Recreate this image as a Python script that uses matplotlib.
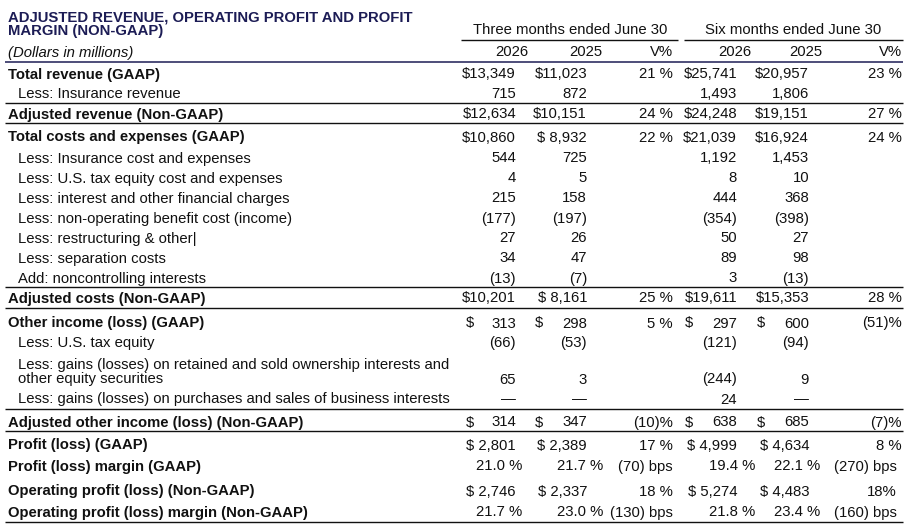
import matplotlib
matplotlib.use("Agg")
import matplotlib.pyplot as plt

# ---------------- data ----------------
title_lines = ["ADJUSTED REVENUE, OPERATING PROFIT AND PROFIT", "MARGIN (NON-GAAP)"]
group_headers = ["Three months ended June 30", "Six months ended June 30"]
col_headers = ["2026", "2025", "V%", "2026", "2025", "V%"]
units_label = "(Dollars in millions)"

labels = [
    "Total revenue (GAAP)",
    "Less: Insurance revenue",
    "Adjusted revenue (Non-GAAP)",
    "Total costs and expenses (GAAP)",
    "Less: Insurance cost and expenses",
    "Less: U.S. tax equity cost and expenses",
    "Less: interest and other financial charges",
    "Less: non-operating benefit cost (income)",
    "Less: restructuring & other|",
    "Less: separation costs",
    "Add: noncontrolling interests",
    "Adjusted costs (Non-GAAP)",
    "Other income (loss) (GAAP)",
    "Less: U.S. tax equity",
    "Less: gains (losses) on retained and sold ownership interests and\nother equity securities",
    "Less: gains (losses) on purchases and sales of business interests",
    "Adjusted other income (loss) (Non-GAAP)",
    "Profit (loss) (GAAP)",
    "Profit (loss) margin (GAAP)",
    "Operating profit (loss) (Non-GAAP)",
    "Operating profit (loss) margin (Non-GAAP)",
]
bold_rows = [0, 2, 3, 11, 12, 16, 17, 18, 19, 20]

three_2026 = ["$13,349", "715", "$12,634", "$10,860", "544", "4", "215", "(177)", "27", "34", "(13)",
              "$10,201", "$ 313", "(66)", "65", "—", "$ 314", "$ 2,801", "21.0 %", "$ 2,746", "21.7 %"]
three_2025 = ["$11,023", "872", "$10,151", "$ 8,932", "725", "5", "158", "(197)", "26", "47", "(7)",
              "$ 8,161", "$ 298", "(53)", "3", "—", "$ 347", "$ 2,389", "21.7 %", "$ 2,337", "23.0 %"]
three_var = ["21 %", "", "24 %", "22 %", "", "", "", "", "", "", "",
             "25 %", "5 %", "", "", "", "(10)%", "17 %", "(70) bps", "18 %", "(130) bps"]
six_2026 = ["$25,741", "1,493", "$24,248", "$21,039", "1,192", "8", "444", "(354)", "50", "89", "3",
            "$19,611", "$ 297", "(121)", "(244)", "24", "$ 638", "$ 4,999", "19.4 %", "$ 5,274", "21.8 %"]
six_2025 = ["$20,957", "1,806", "$19,151", "$16,924", "1,453", "10", "368", "(398)", "27", "98", "(13)",
            "$15,353", "$ 600", "(94)", "9", "—", "$ 685", "$ 4,634", "22.1 %", "$ 4,483", "23.4 %"]
six_var = ["23 %", "", "27 %", "24 %", "", "", "", "", "", "", "",
           "28 %", "(51)%", "", "", "", "(7)%", "8 %", "(270) bps", "18%", "(160) bps"]

columns = [three_2026, three_2025, three_var, six_2026, six_2025, six_var]

# ---------------- layout ----------------
W, H = 914, 532
FONT = "Liberation Sans"
FS = 10.7
NAVY = "#1c1c55"
INK = "#111111"

row_y = [73, 93, 113, 136, 157, 177, 197, 217, 237, 257, 277, 297,
         322, 342, 378, 398, 421, 444, 465, 490, 511]
col_right = [516, 587, 673, 737, 809, 902]
margin_right = [522, 603, 673, 755, 820, 897]
dollar_left = [466, 535, None, 685, 757, None]
header_center = [512, 586, None, 735, 806, None]
rule_rows = [103, 123, 287, 308, 409, 431, 522]

fig = plt.figure(figsize=(W / 100, H / 100), dpi=100)
ax = fig.add_axes([0, 0, 1, 1])
ax.set_xlim(0, W)
ax.set_ylim(H, 0)
ax.axis("off")


def txt(x, y, s, ha="left", weight="normal", style="normal", color=INK, size=FS):
    ax.text(x, y, s, ha=ha, va="center_baseline", fontsize=size, fontfamily=FONT,
            fontweight=weight, fontstyle=style, color=color)


# title
txt(8, 16, title_lines[0], weight="bold", color=NAVY)
txt(8, 30, title_lines[1], weight="bold", color=NAVY)

# group headers
txt(570, 28, group_headers[0], ha="center")
txt(793, 28, group_headers[1], ha="center")
ax.plot([461, 678], [40, 40], color=INK, lw=1.0, solid_capstyle="butt")
ax.plot([684, 903], [40, 40], color=INK, lw=1.0, solid_capstyle="butt")

# column header row
txt(8, 52, units_label, style="italic")
for i, h in enumerate(col_headers):
    if header_center[i] is not None:
        txt(header_center[i], 51, h, ha="center")
    else:
        txt(col_right[i], 51, h, ha="right")
ax.plot([5, 903], [62, 62], color=NAVY, lw=1.1, solid_capstyle="butt")

# rules
for y in rule_rows:
    ax.plot([5, 903], [y, y], color=INK, lw=1.0, solid_capstyle="butt")

# rows
for r, lab in enumerate(labels):
    y = row_y[r]
    bold = r in bold_rows
    x0 = 8 if bold else 18
    lines = lab.split("\n")
    for k, line in enumerate(lines):
        ly = y - (len(lines) - 1 - k) * 15
        txt(x0, ly, line, weight="bold" if bold else "normal")
    is_margin = "margin" in lab
    for c, col in enumerate(columns):
        v = col[r]
        if not v:
            continue
        right = margin_right[c] if (is_margin or v == "18%") else col_right[c]
        if v.startswith("$ ") and "," not in v and dollar_left[c] is not None:
            txt(dollar_left[c], y, "$")
            txt(right, y, v[2:], ha="right")
        else:
            txt(right, y, v, ha="right")

fig.savefig("out.png", dpi=100)
